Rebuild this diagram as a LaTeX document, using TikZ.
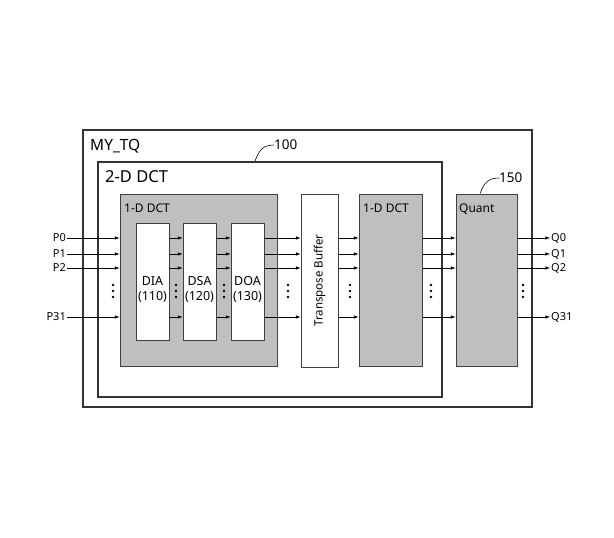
\documentclass[tikz,border=0pt]{standalone}
\usepackage{fontspec}
\setmainfont{Noto Sans}

\begin{document}
\begin{tikzpicture}[x=1pt,y=-1pt,
    frame/.style={draw=black!80,line width=1.6pt},
    unit/.style={draw=black!75,line width=1pt,fill=white,inner sep=0pt},
    grayunit/.style={unit,fill=black!25},
    sig/.style={-latex,line width=0.6pt},
    tag/.style={inner sep=0pt,font=\fontsize{13.5}{15}\selectfont}]
    \useasboundingbox (0,0) rectangle (614,538);
    % outer blocks
    \node[frame,minimum width=449pt,minimum height=277pt] (tq) at (307.5,268.5) {};
    \node[frame,minimum width=344pt,minimum height=235pt] (dct2d) at (270,279.5) {};
    \node[anchor=base west,inner sep=0pt,font=\fontsize{15.5}{17}\selectfont] (tqname) at (90,150) {MY\_TQ};
    \node[anchor=base west,inner sep=0pt,font=\fontsize{16.5}{17}\selectfont] (dctname) at (105,182) {2-D DCT};
    % processing units
    \node[grayunit,minimum width=157pt,minimum height=172pt] (dcta) at (198.5,280) {};
    \node[unit,minimum width=33pt,minimum height=117pt] (dia) at (152.5,281.5) {};
    \node[unit,minimum width=33pt,minimum height=117pt] (dsa) at (199.5,281.5) {};
    \node[unit,minimum width=33pt,minimum height=117pt] (doa) at (247.5,281.5) {};
    \node[unit,minimum width=37pt,minimum height=173pt] (tb) at (319.5,280.5) {\rotatebox{90}{\fontsize{11.5}{13}\selectfont Transpose Buffer}};
    \node[grayunit,minimum width=63pt,minimum height=172pt] (dctb) at (390.5,280) {};
    \node[grayunit,minimum width=61pt,minimum height=172pt] (quant) at (486.5,280) {};
    \node[anchor=base west,inner sep=0pt,font=\fontsize{12}{14}\selectfont] (dctaname) at (124,212) {1-D DCT};
    \node[anchor=base west,inner sep=0pt,font=\fontsize{12}{14}\selectfont] (dctbname) at (363,212) {1-D DCT};
    \node[anchor=base west,inner sep=0pt,font=\fontsize{12}{14}\selectfont] (quantname) at (459,212) {Quant};
    \node[align=center,inner sep=0pt,font=\fontsize{12.5}{15}\selectfont] (diatxt) at ([yshift=-8pt]dia.center) {DIA\\(110)};
    \node[align=center,inner sep=0pt,font=\fontsize{12.5}{15}\selectfont] (dsatxt) at ([yshift=-8pt]dsa.center) {DSA\\(120)};
    \node[align=center,inner sep=0pt,font=\fontsize{12.5}{15}\selectfont] (doatxt) at ([yshift=-8pt]doa.center) {DOA\\(130)};
    % reference numerals
    \coordinate (lead1) at (dct2d.north -| 255,0);
    \node[tag,anchor=west] (num100) at (274,145) {100};
    \draw[line width=0.6pt] (lead1) .. controls (259,150) and (263,145) .. (num100.west);
    \coordinate (lead2) at (quant.north -| 480,0);
    \node[tag,anchor=west] (num150) at (499,178) {150};
    \draw[line width=0.6pt] (lead2) .. controls (484,183) and (488,178) .. (num150.west);
    % signal rows
    \foreach \i/\y in {0/238,1/254,2/268,31/317} {
        \node[anchor=east,inner sep=1pt,font=\fontsize{11}{12}\selectfont] (p\i) at (67,\y) {P\i};
        \node[anchor=west,inner sep=1pt,font=\fontsize{11}{12}\selectfont] (q\i) at (550,\y) {Q\i};
        \draw[sig] (p\i.east) -- (dcta.west |- p\i);
        \foreach \a/\b in {dia/dsa,dsa/doa,doa/tb,tb/dctb,dctb/quant}
            \draw[sig] (\a.east |- p\i) -- (\b.west |- p\i);
        \draw[sig] (quant.east |- q\i) -- (q\i.west);
    }
    % vertical dots
    \foreach \x in {113,176,224,288,350,431,523}
        \foreach \dy in {-6,0,6}
            \fill (\x,291+\dy) circle (1.3pt);
\end{tikzpicture}
\end{document}
